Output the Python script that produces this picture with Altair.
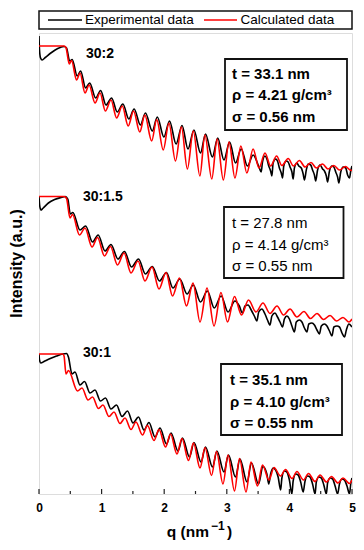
import altair as alt
import pandas as pd

FONT = "Liberation Sans"
W, H = 313, 461

# ---------------- data (q in nm^-1, intensity in arbitrary offset units) ----------------
q_top_calc = [0.00,0.40,0.43,0.484,0.52,0.60,0.655,0.735,0.80,0.895,0.975,1.06,1.15,1.24,1.33,1.425,1.51,1.61,1.69,1.80,1.88,1.985,2.075,2.18,2.275,2.37,2.465,2.57,2.65,2.76,2.845,2.945,3.035,3.13,3.225,3.32,3.42,3.515,3.61,3.70,3.795,3.88,3.98,4.065,4.16,4.25,4.345,4.43,4.53,4.615,4.71,4.80,4.895,4.985,5.00]
i_top_calc = [454,454,452.5,436,439.5,420,427,407,415,397,407,389,400,382,394,374,389,368,385,359,380.5,350,377,339,373,331,369,324,365,321,361,320,358,322,354,327,351,332,347,334,344,334.5,341.5,334,339.5,333,337.5,332,336,331,334.5,330,333.5,329.5,330]

q_top_exp = [0.000,0.008,0.025,0.05,0.10,0.20,0.30,0.40,0.44,0.49,0.53,0.61,0.665,0.745,0.81,0.905,0.985,1.07,1.16,1.25,1.34,1.435,1.52,1.62,1.70,1.81,1.89,1.995,2.085,2.19,2.285,2.38,2.475,2.58,2.66,2.77,2.855,2.955,3.045,3.14,3.23,3.33,3.42,
             3.52,3.55,3.57,3.61,3.64,3.67,3.70,3.72,3.74,3.78,3.81,3.84,3.87,3.89,3.91,3.95,3.98,4.01,4.04,4.06,4.08,4.12,4.15,4.19,4.22,4.24,4.27,4.30,4.34,4.37,4.40,4.42,4.45,4.49,4.53,4.56,4.59,4.61,4.64,4.68,4.71,4.74,4.77,4.79,4.82,4.86,4.90,4.93,4.96,4.98,5.00]
i_top_exp = [464,450,442,440,442.5,447.5,451.5,453.5,452,439,440.5,424,429,412,417,402,409.5,395,402,388,396,381,391,375,387,369,383,363,379,356,374.5,351,370,347,366,343,362,340,358,337,351,334,345,
             332,328,338,344,341,334,329,324,337,341,339,332,327,322,334,339,338,333,328,321,332,337,334,332,326,320,330,336,335,330,325,319,330,335,331,329,324,318,329,334,333,328,323,317,328,333,332,325,322,329,334]

q_mid_calc = [0.00,0.40,0.44,0.495,0.535,0.647,0.735,0.847,0.935,1.046,1.142,1.254,1.358,1.470,1.581,1.693,1.805,1.917,2.029,2.133,2.244,2.356,2.460,2.572,2.684,2.796,2.907,3.011,3.123,3.235,3.347,3.466,3.578,3.690,3.802,3.906,4.010,4.121,4.233,4.337,4.441,4.545,4.649,4.752,4.856,4.952,5.00]
i_mid_calc = [303.5,303.5,301.5,282,285.5,265,272,253,262.5,244,253.5,235,247,227,239,219,233,211,227.5,204,222,194,217,178,212,174,207.5,178,203.5,185,200,188,197,186.5,194,185,191,183,188.5,181.5,186.5,180.5,184.5,179,182.5,178,181]

q_mid_exp = [0.000,0.01,0.03,0.06,0.15,0.25,0.35,0.42,0.46,0.50,0.54,0.655,0.745,0.855,0.945,1.055,1.15,1.262,1.365,1.478,1.59,1.70,1.81,1.925,2.035,2.14,2.25,2.365,2.465,2.58,2.69,2.80,2.91,3.02,3.13,
             3.20,3.25,3.29,3.34,3.39,3.44,3.48,3.51,3.56,3.61,3.65,3.69,3.72,3.77,3.81,3.85,3.89,3.92,3.96,4.00,4.04,4.08,4.11,4.16,4.20,4.24,4.28,4.31,4.36,4.40,4.44,4.48,4.51,4.56,4.60,4.64,4.68,4.71,4.76,4.80,4.84,4.88,4.91,4.95,5.00]
i_mid_exp = [303.5,295,290,291.5,297,300.5,302.5,303.5,301,286,287.5,270,274,258,265,249,255.5,241,248.5,233,241,226,233.5,219,227.5,212,221,206,215,198,209,192,204,188,199,
             194,187,194,195,190,184,179,188,191,186,180,175,184,187,183,178,173,181,184,181,174,168,178,180,178,172,168,176,177,175,170,166,174,176,174,169,164,173,174,173,167,163,170,176,173]

q_bot_calc = [0.00,0.38,0.40,0.431,0.471,0.615,0.687,0.783,0.855,0.950,1.022,1.118,1.198,1.294,1.374,1.470,1.549,1.653,1.733,1.837,1.917,2.021,2.101,2.204,2.284,2.388,2.468,2.572,2.652,2.756,2.835,2.939,3.019,3.123,3.203,3.307,3.387,3.490,3.570,3.674,3.754,3.858,3.938,4.042,4.121,4.225,4.305,4.409,4.489,4.593,4.672,4.776,4.856,4.960,5.00]
i_bot_calc = [146,146,144,126,129.5,109,112,100,103,91.5,95,83.5,88,76.5,82,70.5,78,65,74.5,59.5,70.5,53,66,46,61.5,39.5,57,32,52.5,24.5,48.5,16,45,9,41.5,8,38,14,35,20,32.5,24,30.5,21.5,28.5,20,26.5,18.5,25,18,23.5,17,22,16.5,20]

q_bot_exp = [0.000,0.008,0.03,0.08,0.18,0.28,0.38,0.44,0.47,0.527,0.575,0.655,0.727,0.815,0.895,0.982,1.062,1.150,1.238,1.326,1.414,1.502,1.589,1.677,1.757,1.853,1.933,2.037,2.109,2.220,2.292,2.404,2.476,2.588,2.660,2.772,2.843,2.955,3.027,3.139,3.211,3.323,3.395,3.506,3.578,
             3.64,3.67,3.70,3.74,3.78,3.82,3.86,3.88,3.92,3.96,4.00,4.04,4.06,4.10,4.14,4.18,4.22,4.25,4.29,4.33,4.37,4.41,4.43,4.47,4.51,4.55,4.59,4.61,4.65,4.69,4.73,4.77,4.80,4.84,4.88,4.92,4.96,4.98,5.00]
i_bot_exp = [146,140,137,138.5,141.5,144,146,146.5,143,126,128,115,118.5,107,110,99,102,91,95,83.5,89,77,83,70,77.5,63,72,56,67,49,62,43,57.5,38,53,33,49,28,45,23,41,18,37,16,33.5,
             26,16,26,32,30,23,10,22,29,28,20,6,19,26,25,18,8,19,24,23,16,6,18,23,22,15,6,17,22,21,14,6,16,21,20,14,6,16,22]

sample_labels = ["30:2", "30:1.5", "30:1"]
param_lines = [
    ["t = 33.1 nm", "ρ = 4.21 g/cm³", "σ = 0.56 nm"],
    ["t = 27.8 nm", "ρ = 4.14 g/cm³", "σ = 0.55 nm"],
    ["t = 35.1 nm", "ρ = 4.10 g/cm³", "σ = 0.55 nm"],
]
series_names = ["Experimental data", "Calculated data"]
x_ticks_major = [0, 1, 2, 3, 4, 5]
x_ticks_minor = [0.5, 1.5, 2.5, 3.5, 4.5]

curves = [
    ("30:2", series_names[0], q_top_exp, i_top_exp),
    ("30:2", series_names[1], q_top_calc, i_top_calc),
    ("30:1.5", series_names[0], q_mid_exp, i_mid_exp),
    ("30:1.5", series_names[1], q_mid_calc, i_mid_calc),
    ("30:1", series_names[0], q_bot_exp, i_bot_exp),
    ("30:1", series_names[1], q_bot_calc, i_bot_calc),
]
rows = []
for cid, ser, qs, vals in curves:
    for q, v in zip(qs, vals):
        rows.append({"q": q, "I": v, "series": ser, "curve": cid})
df = pd.DataFrame(rows)

x_enc = alt.X("q:Q", scale=alt.Scale(domain=[0, 5], nice=False, zero=False),
              axis=alt.Axis(values=x_ticks_major, format="d", ticks=False, domain=False, grid=False,
                            labelFont=FONT, labelFontWeight="bold", labelFontSize=12, labelColor="black",
                            labelPadding=8, labelFlush=False, title=None))
y_enc = alt.Y("I:Q", scale=alt.Scale(domain=[6, 467], nice=False, zero=False), axis=None)

exp_layer = alt.Chart(df).transform_filter(alt.datum.series == series_names[0]).mark_line(
    color="black", strokeWidth=1.6, interpolate="monotone", clip=True
).encode(x=x_enc, y=y_enc, detail="curve:N")

calc_layer = alt.Chart(df).transform_filter(alt.datum.series == series_names[1]).mark_line(
    color="#ff0000", strokeWidth=1.6, interpolate="monotone", clip=True
).encode(x=x_enc, y=y_enc, detail="curve:N")

major_df = pd.DataFrame({"q": x_ticks_major})
minor_df = pd.DataFrame({"q": x_ticks_minor})
tick_major = alt.Chart(major_df).mark_rule(color="#222", strokeWidth=1.2).encode(
    x=x_enc, y=alt.value(H), y2=alt.value(H - 5))
tick_minor = alt.Chart(minor_df).mark_rule(color="#222", strokeWidth=1.2).encode(
    x=x_enc, y=alt.value(H), y2=alt.value(H - 3))

dummy = pd.DataFrame({"a": [0]})

def txt(s, x, y, size, weight="bold", align="left", baseline="middle", angle=0, color="black"):
    return alt.Chart(dummy).mark_text(
        text=s, font=FONT, fontSize=size, fontWeight=weight, align=align,
        baseline=baseline, angle=angle, color=color
    ).encode(x=alt.value(x), y=alt.value(y))

def box(x1, x2, y1, y2, sw=1.8):
    return alt.Chart(dummy).mark_rect(fillOpacity=0, stroke="#111", strokeWidth=sw).encode(
        x=alt.value(x1), x2=alt.value(x2), y=alt.value(y1), y2=alt.value(y2))

def seg(x1, x2, y, color):
    return alt.Chart(dummy).mark_rule(color=color, strokeWidth=1.5).encode(
        x=alt.value(x1), x2=alt.value(x2), y=alt.value(y))

layers = [exp_layer, calc_layer, tick_major, tick_minor]

# legend box above the plot
layers += [box(0, W, -22, -4, 1.5),
           seg(9, 43, -13, "black"), txt(series_names[0], 46, -13, 13.5, weight="normal"),
           seg(165, 198, -13, "#ff0000"), txt(series_names[1], 201.5, -13, 13.5, weight="normal")]

# sample labels
layers += [txt(sample_labels[0], 47, 20.5, 14),
           txt(sample_labels[1], 44, 163.5, 14),
           txt(sample_labels[2], 44, 320, 14)]

# parameter boxes
box_geo = [(186, 308, 26, 97, 193, [40.5, 62, 84], "bold"),
           (185, 304.5, 174, 245, 193, [189.5, 211.5, 232.5], "normal"),
           (182, 303, 331, 402, 191, [347, 369, 390], "bold")]
for (x1, x2, y1, y2, tx, tys, wt), lines in zip(box_geo, param_lines):
    layers.append(box(x1, x2, y1, y2))
    for ty, s in zip(tys, lines):
        layers.append(txt(s, tx, ty, 15, weight=wt))

# axis titles
layers += [txt("Intensity (a.u.)", -17, H / 2, 16, align="center", baseline="alphabetic", angle=270),
           txt("q (nm", 170, 504, 15.5, align="right", baseline="alphabetic"),
           txt("\u22121", 172, 497, 12, align="left", baseline="alphabetic"),
           txt(")", 188, 504, 15.5, align="left", baseline="alphabetic")]

chart = alt.layer(*layers).properties(
    width=W, height=H,
    autosize=alt.AutoSizeParams(type="none"),
    padding={"left": 31, "top": 25, "right": 4, "bottom": 52},
).configure_view(stroke="#222", strokeWidth=1.8).configure(font=FONT)

chart.save("out.html", embed_options={"renderer": "svg", "actions": False})
